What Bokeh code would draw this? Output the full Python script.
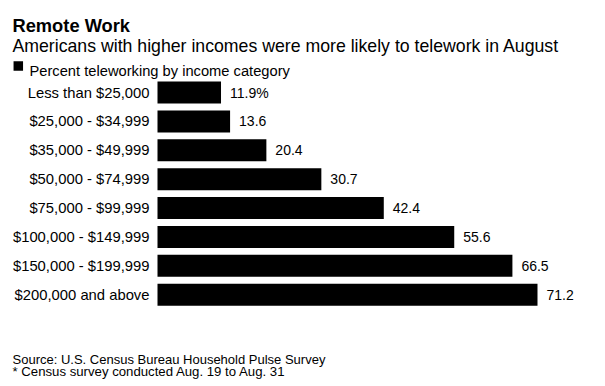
from bokeh.plotting import figure
from bokeh.models import Range1d, ColumnDataSource
from bokeh.core.properties import value
from bokeh.embed import file_html
from bokeh.resources import INLINE

# ---- data ----
categories = [
    "Less than $25,000",
    "$25,000 - $34,999",
    "$35,000 - $49,999",
    "$50,000 - $74,999",
    "$75,000 - $99,999",
    "$100,000 - $149,999",
    "$150,000 - $199,999",
    "$200,000 and above",
]
percent_teleworking = [11.9, 13.6, 20.4, 30.7, 42.4, 55.6, 66.5, 71.2]
value_labels = ["11.9%", "13.6", "20.4", "30.7", "42.4", "55.6", "66.5", "71.2"]

title_text = "Remote Work"
subtitle_text = "Americans with higher incomes were more likely to telework in August"
legend_text = "Percent teleworking by income category"
source_text = "Source: U.S. Census Bureau Household Pulse Survey"
note_text = "* Census survey conducted Aug. 19 to Aug. 31"

FONT = "Liberation Sans"
W, H = 600, 380
BAR_X0 = 157          # pixel where value 0 sits
PX_PER_UNIT = 5.337   # pixels per percentage point
ROW0_Y = 92.0         # pixel centre of first row
ROW_PITCH = 28.875    # pixels per row

rows = list(range(len(categories)))
src = ColumnDataSource(dict(row=rows, cat=categories, val=percent_teleworking, lab=value_labels,
                            catx=[BAR_X0 - 8] * len(categories)))

p = figure(
    width=W, height=H,
    y_range=Range1d((H - ROW0_Y) / ROW_PITCH, -ROW0_Y / ROW_PITCH),
    x_range=Range1d(-BAR_X0 / PX_PER_UNIT, (W - BAR_X0) / PX_PER_UNIT),
    output_backend="svg", toolbar_location=None,
    x_axis_location=None, y_axis_location=None,
    min_border=0,
)
p.extra_x_ranges = {"px": Range1d(0, W)}
p.extra_y_ranges = {"py": Range1d(H, 0)}
p.outline_line_color = None
p.xgrid.visible = False
p.ygrid.visible = False
p.background_fill_color = "white"
p.border_fill_color = "white"

# bars and value labels
p.hbar(y="row", left=0, right="val", height=22 / ROW_PITCH, source=src,
       fill_color="black", line_color=None)
p.text(x="val", y="row", text="lab", source=src, x_offset=9,
       text_baseline="middle", text_align="left",
       text_font=value(FONT), text_font_size="14px", text_color="black")

# category labels (right aligned left of the bars)
p.text(x="catx", y="row", text="cat", source=src, x_range_name="px",
       text_baseline="middle", text_align="right",
       text_font=value(FONT), text_font_size="14.8px", text_color="black")

def ptext(x, y, text, size, style="normal"):
    p.text(x=[x], y=[y], text=[text], x_range_name="px", y_range_name="py",
           text_baseline="alphabetic", text_align="left",
           text_font=value(FONT), text_font_size=size, text_font_style=style,
           text_color="black")

ptext(12, 25, title_text, "18.3px", "bold")
ptext(12, 45.7, subtitle_text, "17.7px")
p.scatter(x=[17.8], y=[65.5], marker="square", size=9.5, x_range_name="px", y_range_name="py",
          fill_color="black", line_color=None)
ptext(29, 70, legend_text, "14.7px")
ptext(12, 359, source_text, "13px")
ptext(12, 371, note_text, "13.2px")

open("out.html", "w").write(file_html(p, INLINE))
